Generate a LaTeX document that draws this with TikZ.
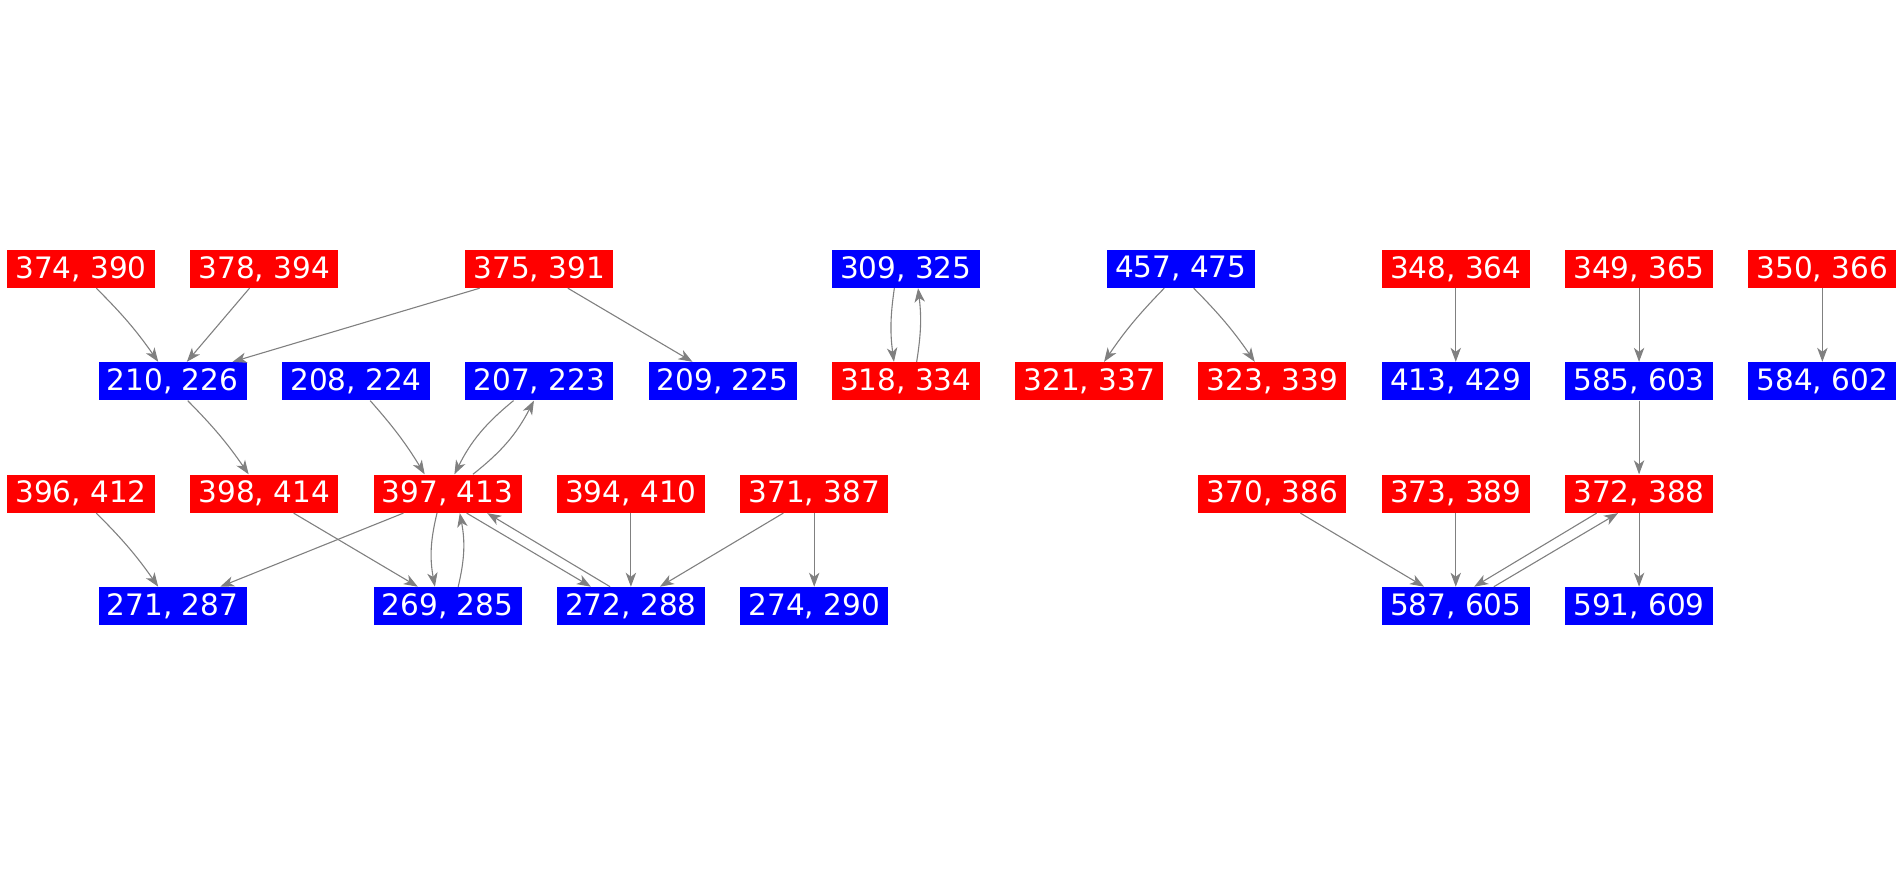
\documentclass[tikz,border=0pt]{standalone}
\usepackage{fontspec}
\setmainfont{DejaVu Sans}
\usetikzlibrary{arrows.meta,calc}
\begin{document}
\begin{tikzpicture}[x=0.5pt,y=-0.5pt,
  box/.style={minimum width=74pt,minimum height=19pt,inner sep=0pt,text=white,
    font=\fontsize{14.75pt}{17pt}\selectfont},
  redbox/.style={box,fill=red},
  bluebox/.style={box,fill=blue},
  edgeline/.style={draw=gray,line width=0.55pt,
    -{Stealth[length=7pt,width=5.2pt,inset=2pt]}}]
\useasboundingbox (0,0) rectangle (1904,875);
% row 1
\node[redbox]  (n374) at (81,268.8)      {374, 390};
\node[redbox]  (n378) at (264.3,268.8)   {378, 394};
\node[redbox]  (n375) at (539.25,268.8)  {375, 391};
\node[bluebox] (n309) at (905.85,268.8)  {309, 325};
\node[bluebox] (n457) at (1180.8,268.8)  {457, 475};
\node[redbox]  (n348) at (1455.75,268.8) {348, 364};
\node[redbox]  (n349) at (1639.05,268.8) {349, 365};
\node[redbox]  (n350) at (1822.35,268.8) {350, 366};
% row 2
\node[bluebox] (n210) at (172.65,381.2)  {210, 226};
\node[bluebox] (n208) at (355.95,381.2)  {208, 224};
\node[bluebox] (n207) at (539.25,381.2)  {207, 223};
\node[bluebox] (n209) at (722.55,381.2)  {209, 225};
\node[redbox]  (n318) at (905.85,381.2)  {318, 334};
\node[redbox]  (n321) at (1089.15,381.2) {321, 337};
\node[redbox]  (n323) at (1272.45,381.2) {323, 339};
\node[bluebox] (n413) at (1455.75,381.2) {413, 429};
\node[bluebox] (n585) at (1639.05,381.2) {585, 603};
\node[bluebox] (n584) at (1822.35,381.2) {584, 602};
% row 3
\node[redbox]  (n396) at (81,493.7)      {396, 412};
\node[redbox]  (n398) at (264.3,493.7)   {398, 414};
\node[redbox]  (n397) at (447.6,493.7)   {397, 413};
\node[redbox]  (n394) at (630.9,493.7)   {394, 410};
\node[redbox]  (n371) at (814.2,493.7)   {371, 387};
\node[redbox]  (n370) at (1272.45,493.7) {370, 386};
\node[redbox]  (n373) at (1455.75,493.7) {373, 389};
\node[redbox]  (n372) at (1639.05,493.7) {372, 388};
% row 4
\node[bluebox] (n271) at (172.65,606.1)  {271, 287};
\node[bluebox] (n269) at (447.6,606.1)   {269, 285};
\node[bluebox] (n272) at (630.9,606.1)   {272, 288};
\node[bluebox] (n274) at (814.2,606.1)   {274, 290};
\node[bluebox] (n587) at (1455.75,606.1) {587, 605};
\node[bluebox] (n591) at (1639.05,606.1) {591, 609};
% edges
\draw[edgeline] ($(n374.south)+(15.3,0)$) to[bend left=5] ($(n210.north)+(-14.4,0)$);
\draw[edgeline] ($(n378.south)+(-14.8,0)$) -- ($(n210.north)+(14.2,0)$);
\draw[edgeline] ($(n375.south)+(-59.6,0)$) -- ($(n210.north)+(59.9,0)$);
\draw[edgeline] ($(n375.south)+(28.6,0)$) -- ($(n209.north)+(-30.1,0)$);
\draw[edgeline] ($(n210.south)+(15,0)$) to[bend left=5] ($(n398.north)+(-15.6,0)$);
\draw[edgeline] ($(n208.south)+(14.2,0)$) to[bend left=5] ($(n397.north)+(-22.9,0)$);
\draw[edgeline] ($(n207.south)+(-25.7,0)$) to[bend right=12] ($(n397.north)+(6.8,0)$);
\draw[edgeline] ($(n397.north)+(25.3,0)$) to[bend right=12] ($(n207.south)+(-5.3,0)$);
\draw[edgeline] ($(n396.south)+(15.3,0)$) to[bend left=5] ($(n271.north)+(-14.4,0)$);
\draw[edgeline] ($(n397.south)+(-44.2,0)$) -- ($(n271.north)+(47.6,0)$);
\draw[edgeline] ($(n398.south)+(29.3,0)$) -- ($(n269.north)+(-29.8,0)$);
\draw[edgeline] ($(n397.south)+(-10.6,0)$) to[bend right=12] ($(n269.north)+(-12.7,0)$);
\draw[edgeline] ($(n269.north)+(10.6,0)$) to[bend right=12] ($(n397.south)+(12.2,0)$);
\draw[edgeline] ($(n397.south)+(19.1,0)$) -- ($(n272.north)+(-40,0)$);
\draw[edgeline] ($(n272.north)+(-20.8,0)$) -- ($(n397.south)+(39.6,0)$);
\draw[edgeline] (n394.south) -- (n272.north);
\draw[edgeline] ($(n371.south)+(-30.9,0)$) -- ($(n272.north)+(29,0)$);
\draw[edgeline] (n371.south) -- (n274.north);
\draw[edgeline] ($(n309.south)+(-11.5,0)$) to[bend right=8] ($(n318.north)+(-11.9,0)$);
\draw[edgeline] ($(n318.north)+(10.8,0)$) to[bend right=8] ($(n309.south)+(12.2,0)$);
\draw[edgeline] ($(n457.south)+(-16.6,0)$) to[bend right=5] ($(n321.north)+(14.9,0)$);
\draw[edgeline] ($(n457.south)+(12.9,0)$) to[bend left=5] ($(n323.north)+(-17.7,0)$);
\draw[edgeline] (n348.south) -- (n413.north);
\draw[edgeline] (n349.south) -- (n585.north);
\draw[edgeline] (n350.south) -- (n584.north);
\draw[edgeline] (n585.south) -- (n372.north);
\draw[edgeline] ($(n370.south)+(27.9,0)$) -- ($(n587.north)+(-31.7,0)$);
\draw[edgeline] (n373.south) -- (n587.north);
\draw[edgeline] ($(n372.south)+(-42.4,0)$) -- ($(n587.north)+(18.4,0)$);
\draw[edgeline] ($(n587.north)+(38.1,0)$) -- ($(n372.south)+(-21,0)$);
\draw[edgeline] (n372.south) -- (n591.north);
\end{tikzpicture}
\end{document}
